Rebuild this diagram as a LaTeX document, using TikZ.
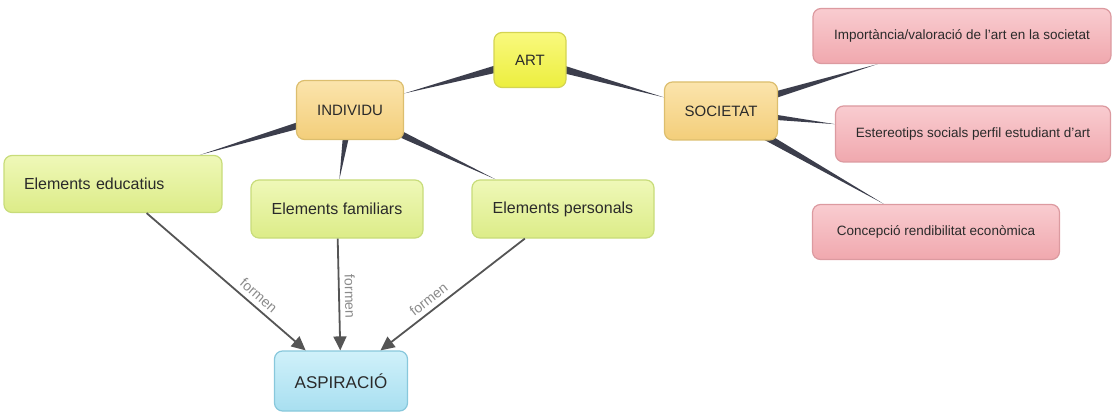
\documentclass[tikz,border=0pt]{standalone}
\usepackage{fontspec}
\setmainfont{Liberation Sans}
\usetikzlibrary{arrows.meta,calc,backgrounds}

\definecolor{txtcol}{HTML}{2A2A2A}
\definecolor{lblcol}{HTML}{8A8A8A}
\definecolor{linkcol}{HTML}{3C3E4C}
\definecolor{arrcol}{HTML}{555555}
\definecolor{arttop}{HTML}{F9F97E}
\definecolor{artbot}{HTML}{ECEE3E}
\definecolor{artline}{HTML}{D4D452}
\definecolor{orgtop}{HTML}{FBE4AC}
\definecolor{orgbot}{HTML}{F3CE7A}
\definecolor{orgline}{HTML}{DCBE6E}
\definecolor{grntop}{HTML}{EFF8B8}
\definecolor{grnbot}{HTML}{DCEC88}
\definecolor{grnline}{HTML}{C8DC7A}
\definecolor{pnktop}{HTML}{F9CCD0}
\definecolor{pnkbot}{HTML}{F0A8AE}
\definecolor{pnkline}{HTML}{DC9AA0}
\definecolor{blutop}{HTML}{D0F1FA}
\definecolor{blubot}{HTML}{A8DFF0}
\definecolor{bluline}{HTML}{88C8DC}

\newcommand{\linkwedge}[2]{\fill[linkcol] ($(#1)!5pt!90:(#2)$) -- ($(#1)!5pt!-90:(#2)$) -- (#2) -- cycle;}

\begin{document}
\begin{tikzpicture}
            [x=1pt,y=-1pt,
             Box/.style={rectangle,rounded corners=8pt,line width=1.2pt,text=txtcol,inner sep=0pt},
             Yel/.style={Box,draw=artline,top color=arttop,bottom color=artbot,font=\fontsize{15}{18}\selectfont},
             Org/.style={Box,draw=orgline,top color=orgtop,bottom color=orgbot,font=\fontsize{15}{18}\selectfont},
             Grn/.style={Box,draw=grnline,top color=grntop,bottom color=grnbot,font=\fontsize{16}{19}\selectfont},
             Pnk/.style={Box,draw=pnkline,top color=pnktop,bottom color=pnkbot,font=\fontsize{13.5}{16}\selectfont},
             Blu/.style={Box,draw=bluline,top color=blutop,bottom color=blubot,font=\fontsize{17}{20}\selectfont},
             Arr/.style={draw=arrcol,line width=1.8pt,-{Triangle[length=14pt,width=13pt]}},
             Lbl/.style={sloped,above,text=lblcol,font=\fontsize{14}{16}\selectfont,inner sep=5pt}]
            \useasboundingbox (0,0) rectangle (1113,414);

            \node[Yel,minimum width=72pt,minimum height=55pt] (art) at (530,60) {ART};
            \node[Org,minimum width=107pt,minimum height=59pt] (indiv) at (350,110) {INDIVIDU};
            \node[Org,minimum width=113pt,minimum height=58pt] (soc) at (721,111) {SOCIETAT};

            \node[Pnk,minimum width=298pt,minimum height=55pt] (imp) at (962,36) {Importància/valoració de l’art en la societat};
            \node[Pnk,minimum width=275pt,minimum height=56pt] (est) at (973,134) {Estereotips socials perfil estudiant d’art};
            \node[Pnk,minimum width=247pt,minimum height=55pt] (conc) at (936,232) {Concepció rendibilitat econòmica};

            \node[Grn,minimum height=57pt,text width=178pt,inner xsep=20pt,align=left] (edu) at (113,184) {Elements educatius};
            \node[Grn,minimum width=172pt,minimum height=58pt] (fam) at (337,209) {Elements familiars};
            \node[Grn,minimum width=182pt,minimum height=58pt] (pers) at (563,209) {Elements personals};

            \node[Blu,minimum width=133pt,minimum height=60pt] (asp) at (341,381) {ASPIRACIÓ};

            \begin{scope}[on background layer]
                \linkwedge{art}{indiv}
                \linkwedge{art}{soc}
                \linkwedge{indiv}{edu}
                \linkwedge{indiv}{fam}
                \linkwedge{indiv}{pers}
                \linkwedge{soc}{imp}
                \linkwedge{soc}{est}
                \linkwedge{soc}{conc}
            \end{scope}

            \draw[Arr] (edu) -- node[Lbl,pos=0.66] {formen} (asp);
            \draw[Arr] (fam) -- node[Lbl,pos=0.52] {formen} (asp);
            \draw[Arr] (pers) -- node[Lbl,pos=0.62] {formen} (asp);
        \end{tikzpicture}
\end{document}
